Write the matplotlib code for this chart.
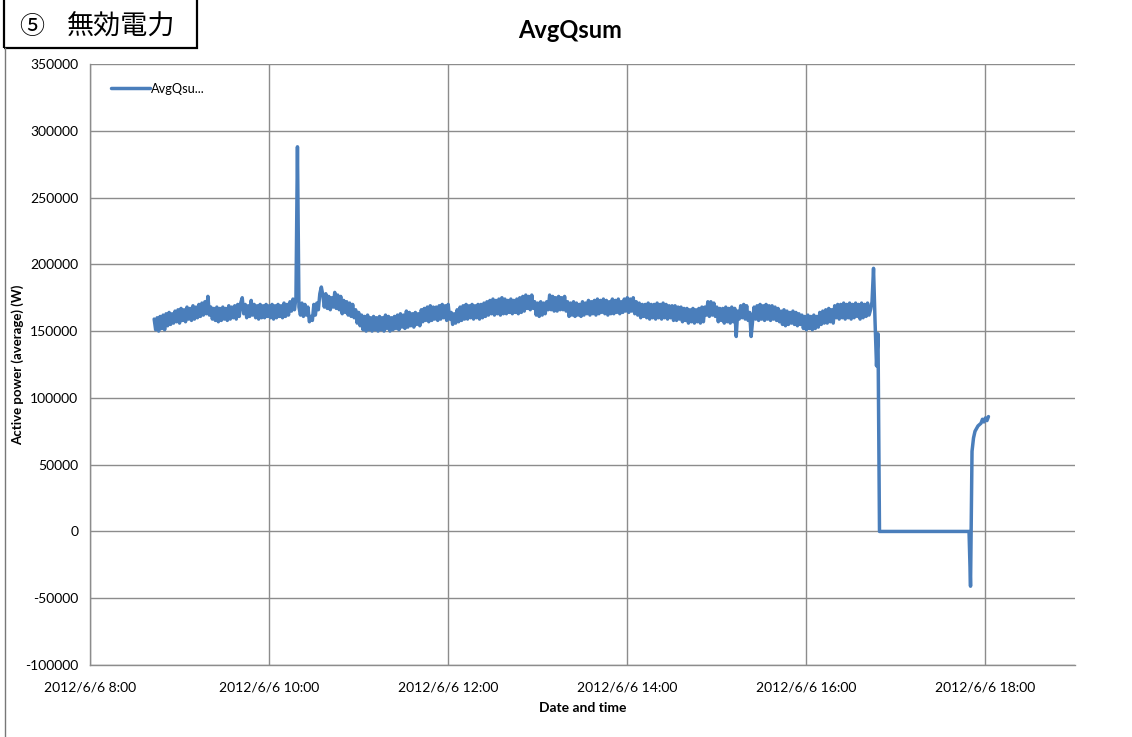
import matplotlib
matplotlib.use("Agg")
import matplotlib.pyplot as plt
import pandas as pd
from matplotlib.lines import Line2D
from matplotlib.patches import Rectangle

# ---- data: AvgQsum in thousands of W, one sample per minute from 08:43 ----
start_time = "2012-06-06 08:43"
sample_minutes = 1
values_k = [
    # 08:43 - 09:12
    159, 151, 160, 150, 161, 152, 162, 151, 163, 154, 164, 155, 163, 156, 165,
    157, 166, 156, 167, 158, 166, 157, 168, 159, 167, 158, 169, 159, 168, 160,
    # 09:13 - 09:42
    170, 161, 171, 162, 172, 163, 176, 162, 168, 159, 167, 158, 168, 157, 167,
    158, 168, 159, 167, 158, 169, 159, 168, 160, 169, 159, 170, 161, 171, 175,
    # 09:43 - 10:12
    163, 170, 160, 169, 161, 173, 162, 170, 160, 169, 159, 170, 160, 169, 160,
    170, 161, 169, 160, 170, 159, 169, 160, 170, 161, 169, 160, 171, 161, 170,
    # 10:13 - 10:42
    162, 172, 165, 174, 166, 175, 288, 168, 162, 171, 161, 170, 162, 168, 157,
    161, 158, 170, 162, 171, 166, 178, 183, 177, 168, 178, 167, 176, 166, 175,
    # 10:43 - 11:12
    168, 179, 167, 177, 166, 176, 163, 173, 164, 172, 162, 171, 161, 170, 160,
    166, 156, 164, 154, 162, 151, 161, 150, 162, 151, 160, 150, 161, 151, 160,
    # 11:13 - 11:42
    150, 161, 151, 160, 150, 162, 152, 161, 150, 160, 151, 161, 152, 162, 151,
    163, 153, 162, 152, 165, 153, 164, 154, 163, 153, 164, 155, 163, 154, 166,
    # 11:43 - 12:12
    157, 167, 158, 168, 157, 169, 158, 168, 159, 168, 158, 169, 159, 170, 160,
    169, 158, 170, 159, 164, 155, 163, 156, 166, 157, 168, 158, 169, 159, 170,
    # 12:13 - 12:42
    159, 169, 160, 170, 159, 169, 160, 170, 159, 170, 160, 171, 161, 172, 162,
    173, 163, 174, 162, 173, 163, 174, 162, 175, 163, 174, 163, 173, 164, 174,
    # 12:43 - 13:12
    163, 173, 164, 174, 163, 175, 164, 176, 165, 177, 167, 176, 166, 177, 167,
    172, 162, 171, 161, 172, 162, 171, 163, 172, 166, 177, 166, 176, 165, 175,
    # 13:13 - 13:42
    165, 176, 166, 175, 166, 176, 165, 172, 161, 171, 162, 172, 161, 171, 162,
    170, 161, 172, 162, 171, 163, 173, 162, 172, 163, 173, 162, 174, 163, 173,
    # 13:43 - 14:12
    164, 174, 163, 173, 162, 172, 163, 174, 163, 173, 164, 174, 163, 172, 164,
    174, 165, 175, 164, 174, 165, 175, 163, 172, 162, 171, 160, 170, 161, 170,
    # 14:13 - 14:42
    160, 171, 159, 170, 160, 170, 159, 171, 160, 170, 159, 171, 160, 170, 159,
    169, 160, 169, 158, 169, 158, 168, 159, 168, 157, 167, 158, 167, 156, 166,
    # 14:43 - 15:12
    157, 167, 156, 166, 157, 167, 156, 168, 157, 168, 162, 172, 161, 172, 162,
    171, 161, 168, 157, 167, 158, 167, 156, 168, 157, 167, 156, 168, 157, 167,
    # 15:13 - 15:42
    146, 165, 159, 169, 160, 170, 159, 169, 158, 164, 146, 158, 168, 159, 169,
    158, 170, 159, 169, 158, 170, 159, 169, 158, 169, 159, 168, 158, 167, 157,
    # 15:43 - 16:12
    165, 155, 166, 154, 165, 155, 164, 156, 165, 155, 164, 154, 163, 155, 162,
    152, 161, 151, 162, 152, 161, 151, 162, 152, 161, 153, 164, 155, 165, 156,
    # 16:13 - 16:42
    166, 156, 167, 157, 166, 156, 169, 160, 170, 159, 170, 160, 171, 159, 170,
    160, 171, 159, 170, 160, 171, 161, 170, 159, 171, 160, 170, 161, 171, 162,
    # 16:43 - 16:48
    166, 172, 197, 158, 124, 148,
    # 16:49 - 17:49
    0, 0, 0, 0, 0, 0, 0, 0, 0, 0, 0, 0, 0, 0, 0, 0, 0, 0, 0, 0,
    0, 0, 0, 0, 0, 0, 0, 0, 0, 0, 0, 0, 0, 0, 0, 0, 0, 0, 0, 0,
    0, 0, 0, 0, 0, 0, 0, 0, 0, 0, 0, 0, 0, 0, 0, 0, 0, 0, 0, 0, 0,
    # 17:50 - 18:02
    -41, 60, 70, 75, 77, 79, 80, 81, 84, 82, 85, 83, 86,
]
series_label = "AvgQsu..."
chart_title = "AvgQsum"
x_label = "Date and time"
y_label = "Active power (average) (W)"
header_mark = "⑤"
header_text = "無効電力"
y_ticks = [-100000, -50000, 0, 50000, 100000, 150000, 200000, 250000, 300000, 350000]
x_tick_hours = [8, 10, 12, 14, 16, 18]

times = pd.date_range(start=start_time, periods=len(values_k), freq=f"{sample_minutes}min")
values = [v * 1000 for v in values_k]

# ---- figure ----
W, H = 1132, 737
fig = plt.figure(figsize=(W / 100, H / 100), dpi=100)
fig.patch.set_facecolor("white")
ax = fig.add_axes([90 / W, 1 - 665 / H, (1075 - 90) / W, (665 - 64) / H])

font = "Lato"
line_color = "#4A7EBB"
grid_color = "#8C8C8C"

ax.plot(times, values, color=line_color, lw=2.5, solid_joinstyle="round",
        solid_capstyle="round", label=series_label)

day = pd.Timestamp("2012-06-06")
ax.set_xlim(day + pd.Timedelta(hours=8), day + pd.Timedelta(hours=19))
ax.set_ylim(-100000, 350000)
ax.set_yticks(y_ticks)
ax.set_yticklabels([str(t) for t in y_ticks], fontfamily=font, fontsize=10)
xt = [day + pd.Timedelta(hours=h) for h in x_tick_hours]
ax.set_xticks(xt)
ax.set_xticklabels([f"{d.year}/{d.month}/{d.day} {d.hour}:{d.minute:02d}" for d in xt],
                   fontfamily=font, fontsize=10)
ax.tick_params(axis="y", length=0, pad=8.5, colors="black")
ax.tick_params(axis="x", length=0, pad=12, colors="black")
ax.grid(True, color=grid_color, lw=1.0)
ax.set_axisbelow(True)
for s in ["top", "right"]:
    ax.spines[s].set_visible(False)
for s in ["left", "bottom"]:
    ax.spines[s].set_color(grid_color)
    ax.spines[s].set_linewidth(1.0)

ax.set_xlabel(x_label, fontfamily=font, fontsize=10, fontweight="bold", labelpad=6)
ax.set_ylabel(y_label, fontfamily=font, fontsize=9.5, fontweight="bold", labelpad=0.5)

ax.legend(loc="upper left", bbox_to_anchor=(0.01, 0.988), frameon=False,
          handlelength=3.0, handletextpad=0.1, prop={"family": font, "size": 9.2})

fig.text(570 / W, 1 - 30 / H, chart_title, ha="center", va="center",
         fontfamily=font, fontsize=17, fontweight="bold")

# header box and page border
fig.add_artist(Rectangle((4 / W, 1 - 48 / H), (197 - 4) / W, 48 / H + 0.01,
                         transform=fig.transFigure, fill=False, ec="black", lw=1.6))
cjk = ["Noto Sans CJK JP", "DejaVu Sans"]
fig.text(19 / W, 1 - 27 / H, header_mark, ha="left", va="center",
         fontfamily=cjk, fontsize=18)
fig.text(67 / W, 1 - 27 / H, header_text, ha="left", va="center",
         fontfamily=cjk, fontsize=19.5)
fig.add_artist(Line2D([4.5 / W, 4.5 / W], [0, 1 - 48 / H], transform=fig.transFigure,
                      color="#777777", lw=1.0))

fig.savefig("out.png", dpi=100)
